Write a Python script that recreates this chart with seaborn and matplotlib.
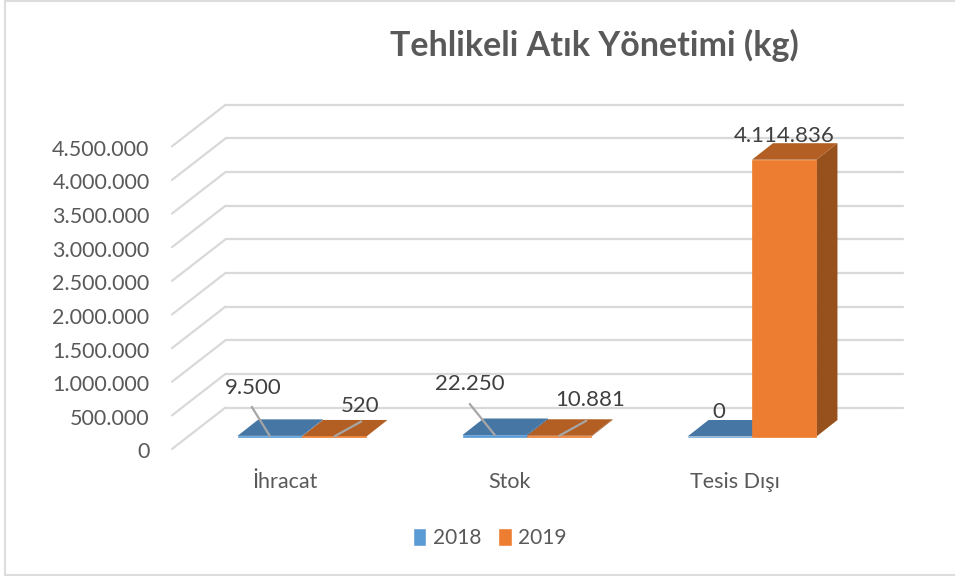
import matplotlib
matplotlib.use('Agg')
import matplotlib.pyplot as plt
from matplotlib.lines import Line2D
from matplotlib.patches import Polygon
from matplotlib.transforms import ScaledTranslation
import pandas as pd
import seaborn as sns

categories = ['İhracat', 'Stok', 'Tesis Dışı']
values_2018 = [9500, 22250, 0]
values_2019 = [520, 10881, 4114836]
y_ticks = [0, 500000, 1000000, 1500000, 2000000, 2500000, 3000000, 3500000, 4000000, 4500000]

# label text moved away from the top of the bar, in pixels (text x, text y, leader x, leader y)
offsets_2018 = [(-17, 48, -18, 29), (-25, 51, -25, 31), (-1, 25, None, None)]
offsets_2019 = [(26, 30, 27, 15), (31, 36, 27, 15), (0, 24, None, None)]

front_colors = ['#5B9BD5', '#ED7D31']
top_colors = ['#4677A4', '#B35F24']
side_colors = ['#3F6C96', '#96511D']
grid_color = '#D9D9D9'

sns.set_theme(style='white')
plt.rcParams['font.family'] = ['Lato', 'DejaVu Sans']

df = pd.DataFrame({
    'kategori': categories * 2,
    'kg': values_2018 + values_2019,
    'yil': ['2018'] * 3 + ['2019'] * 3,
})

W, H = 955, 576
fig = plt.figure(figsize=(W / 100, H / 100), dpi=100)
# axes = plane of the bars' front faces
ax = fig.add_axes([189.5 / W, 1 - 436.5 / H, 675 / W, 302.7 / H])

sns.barplot(data=df, x='kategori', y='kg', hue='yil', palette=front_colors,
            width=0.573, saturation=1, gap=0, ax=ax)
handles, labels = ax.get_legend_handles_labels()
ax.get_legend().remove()

ax.set_xlim(-0.5, 2.5)
ax.set_ylim(0, 4500000)
ax.set_xlabel('')
ax.set_ylabel('')
sns.despine(ax=ax, left=True, bottom=True)
ax.patch.set_alpha(0)

# pixels to data units
px_x = 3 / 675
px_y = 4500000 / 302.7

# walls of the fake 3d box, front plane and back plane relative to the bars
front_dx, front_dy = -17.5 * px_x, -12.5 * px_y
back_dx, back_dy = 36 * px_x, 29 * px_y
right_end = 2.5 + 38.5 * px_x
for v in y_ticks:
    ax.plot([-0.5 + front_dx, -0.5 + back_dx], [v + front_dy, v + back_dy],
            color=grid_color, lw=1.6, clip_on=False, zorder=0.5)
    ax.plot([-0.5 + back_dx, right_end], [v + back_dy, v + back_dy],
            color=grid_color, lw=1.6, clip_on=False, zorder=0.5)

# depth faces for each bar
depth_x, depth_y = 21 * px_x, 16.5 * px_y
for i, cont in enumerate(ax.containers):
    for bar in cont:
        x0 = bar.get_x()
        x1 = x0 + bar.get_width()
        h = bar.get_height()
        bar.set_edgecolor(front_colors[i])
        bar.set_linewidth(0.5)
        bar.set_zorder(2 + i * 2 + 1)
        bar.set_clip_on(False)
        top = Polygon([(x0, h), (x1, h), (x1 + depth_x, h + depth_y), (x0 + depth_x, h + depth_y)],
                      closed=True, facecolor=top_colors[i], edgecolor='none',
                      clip_on=False, zorder=2 + i * 2)
        side = Polygon([(x1, 0), (x1, h), (x1 + depth_x, h + depth_y), (x1 + depth_x, depth_y)],
                       closed=True, facecolor=side_colors[i], edgecolor='none',
                       clip_on=False, zorder=2 + i * 2)
        ax.add_patch(side)
        ax.add_patch(top)

# data labels and leader lines
for cont, vals, offs in zip(ax.containers, [values_2018, values_2019], [offsets_2018, offsets_2019]):
    for bar, v, (tx, ty, lx, ly) in zip(cont, vals, offs):
        xc = bar.get_x() + bar.get_width() / 2
        label = f'{v:,}'.replace(',', '.')
        if lx is not None:
            ax.annotate('', xy=(xc, v), xytext=(lx, ly), textcoords='offset pixels',
                        arrowprops=dict(arrowstyle='-', color='#A6A6A6', lw=1.6, shrinkA=0, shrinkB=0),
                        annotation_clip=False, zorder=8)
        ax.annotate(label, xy=(xc, v), xytext=(tx, ty), textcoords='offset pixels',
                    ha='center', va='center', fontsize=16, color='#404040',
                    annotation_clip=False, zorder=9)

# axis labels sit on the front plane, not the bar plane
ax.set_yticks(y_ticks)
ax.set_yticklabels([f'{v:,}'.replace(',', '.') for v in y_ticks])
ax.tick_params(axis='both', length=0, labelcolor='#595959')
ax.tick_params(axis='y', pad=0, labelsize=15.5)
ax.tick_params(axis='x', pad=16.5, labelsize=15.5)
xtick_shift = ScaledTranslation(-17.5 / 100, -12.5 / 100, fig.dpi_scale_trans)
ytick_shift = ScaledTranslation(-40 / 100, -14 / 100, fig.dpi_scale_trans)
for t in ax.get_xticklabels():
    t.set_transform(t.get_transform() + xtick_shift)
for t in ax.get_yticklabels():
    t.set_transform(t.get_transform() + ytick_shift)

fig.text(594 / W, 1 - 45 / H, 'Tehlikeli Atık Yönetimi (kg)', ha='center', va='center',
         fontsize=24.5, fontweight='bold', color='#595959')

fig.legend(handles, labels, loc='center', bbox_to_anchor=(489.5 / W, 1 - 538 / H), ncol=2,
           frameon=False, fontsize=15, labelcolor='#595959', handlelength=0.67, handleheight=0.95,
           handletextpad=0.3, columnspacing=0.8)

# chart border
fig.add_artist(Line2D([5 / W, 5 / W], [0, 1], color='#DDDDDD', lw=1.5))
fig.add_artist(Line2D([5 / W, 1], [1 - 1 / H, 1 - 1 / H], color='#DDDDDD', lw=1.5))
fig.add_artist(Line2D([5 / W, 1], [1 - 575 / H, 1 - 575 / H], color='#DDDDDD', lw=1.5))

fig.savefig('out.png', dpi=100)
